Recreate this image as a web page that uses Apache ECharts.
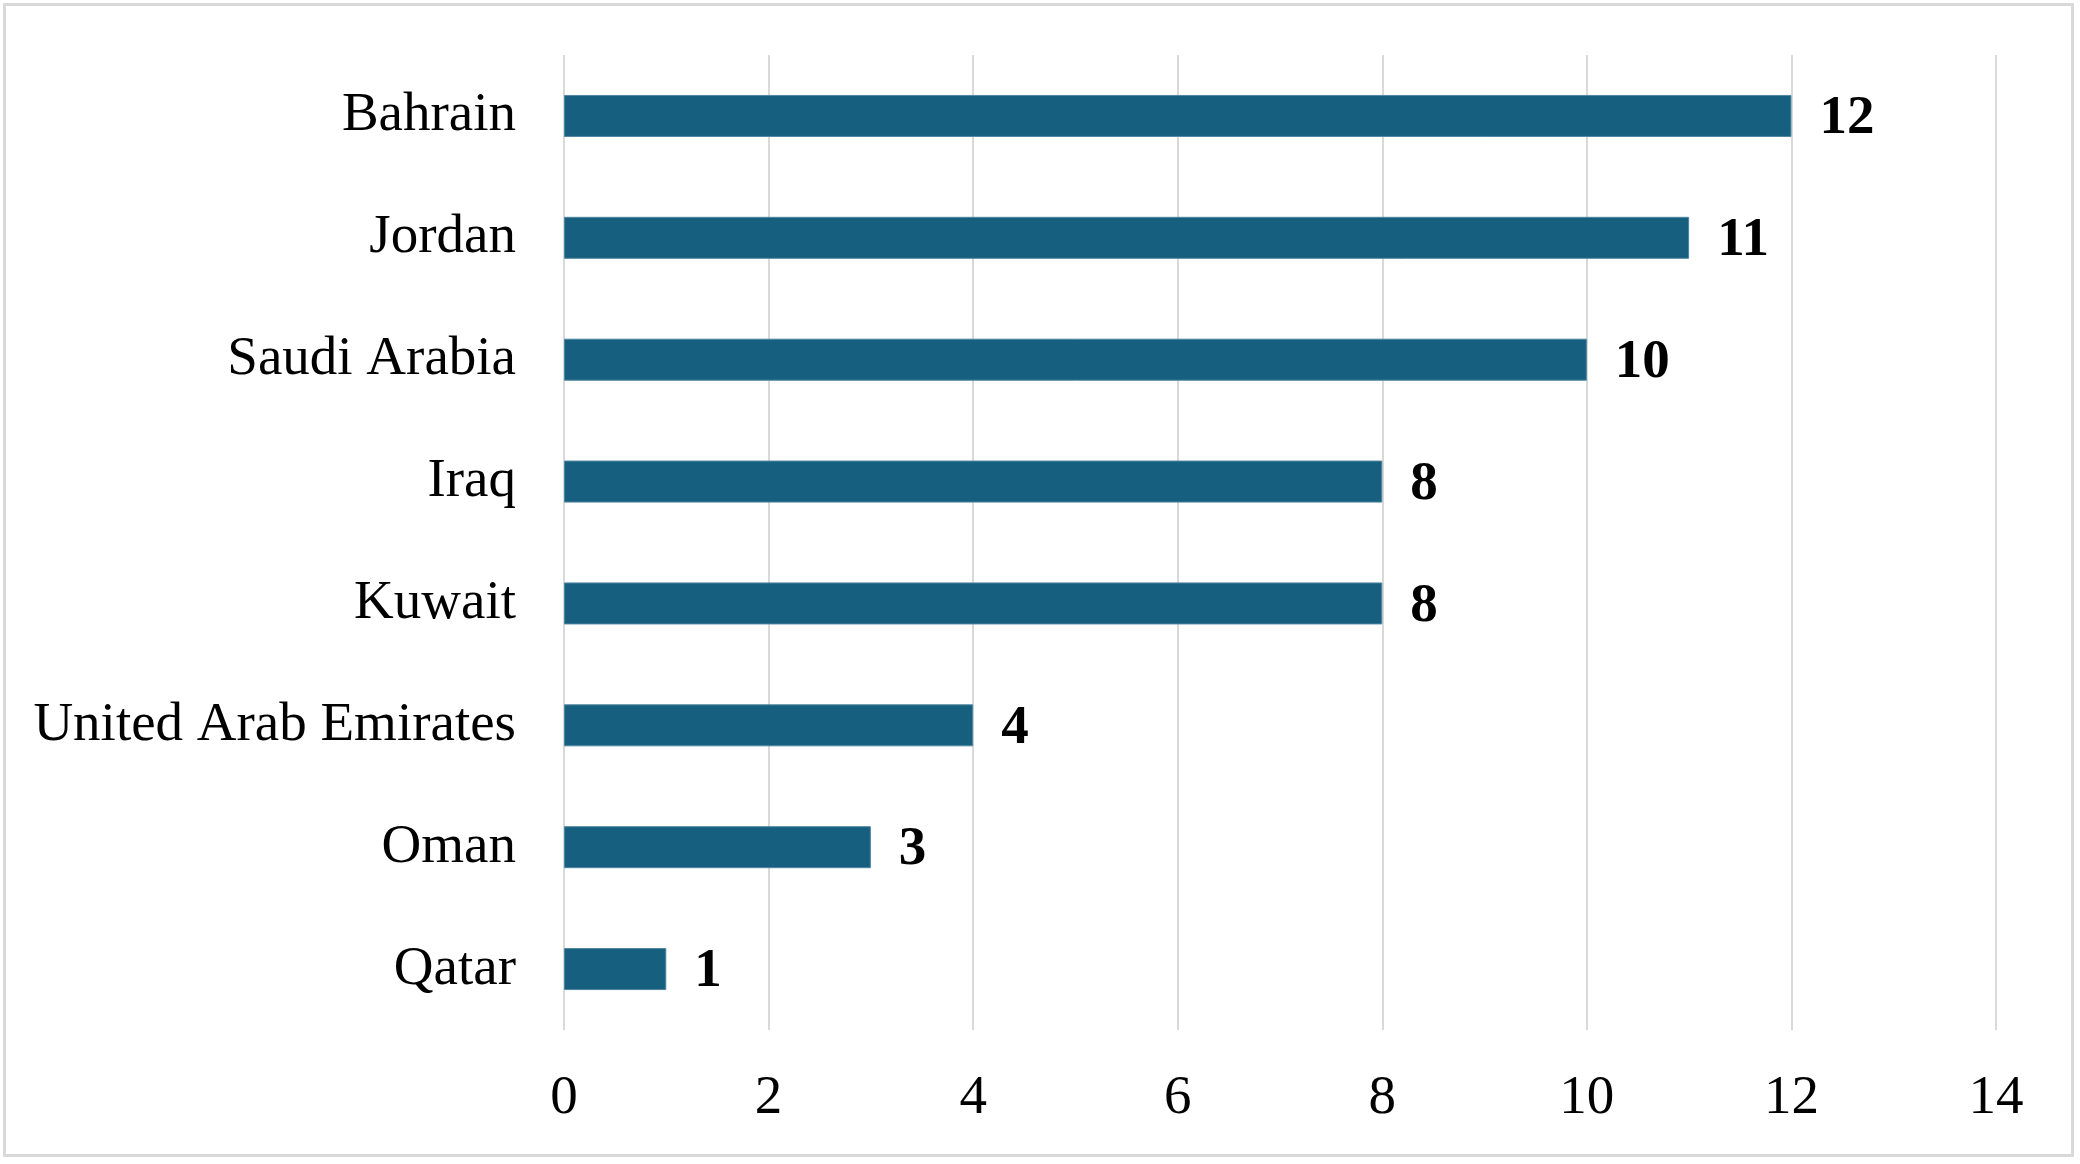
<!DOCTYPE html>
<html>
<head>
<meta charset="utf-8">
<script src="https://cdn.jsdelivr.net/npm/echarts@6/dist/echarts.min.js"></script>
<style>
html,body{margin:0;padding:0;background:#fff;}
#chart{width:2080px;height:1164px;}
</style>
</head>
<body>
<div id="chart"></div>
<script>
const categories = ["Bahrain","Jordan","Saudi Arabia","Iraq","Kuwait","United Arab Emirates","Oman","Qatar"];
const values = [12, 11, 10, 8, 8, 4, 3, 1];
const xTicks = { min: 0, max: 14, interval: 2 };

const chart = echarts.init(document.getElementById('chart'), null, {renderer:'canvas'});
const font = '"Liberation Serif","Times New Roman",serif';
chart.setOption({
  backgroundColor: '#ffffff',
  animation: false,
  graphic: [{
    type: 'rect',
    shape: { x: 4.5, y: 4.5, width: 2068, height: 1151 },
    style: { fill: 'none', stroke: '#d9d9d9', lineWidth: 3 },
    silent: true
  }],
  grid: { left: 564, right: 84, top: 55, bottom: 134, containLabel: false },
  xAxis: {
    type: 'value',
    min: xTicks.min, max: xTicks.max, interval: xTicks.interval,
    axisLine: { show: false },
    axisTick: { show: false },
    splitLine: { show: true, lineStyle: { color: '#d9d9d9', width: 2 } },
    axisLabel: { fontFamily: font, fontSize: 55, color: '#000', margin: 41 }
  },
  yAxis: {
    type: 'category',
    data: categories.slice().reverse(),
    axisLine: { show: false },
    axisTick: { show: false },
    axisLabel: { fontFamily: font, fontSize: 55, color: '#000', margin: 48, padding: [10, 0, 0, 0] }
  },
  series: [{
    type: 'bar',
    data: values.slice().reverse(),
    barWidth: 42,
    itemStyle: { color: '#175f7f', borderColor: '#4f86a0', borderWidth: 1 },
    label: {
      show: true, position: 'right', distance: 28, offset: [0, 3],
      fontFamily: font, fontSize: 55, fontWeight: 'bold', color: '#000'
    }
  }]
});
</script>
</body>
</html>
